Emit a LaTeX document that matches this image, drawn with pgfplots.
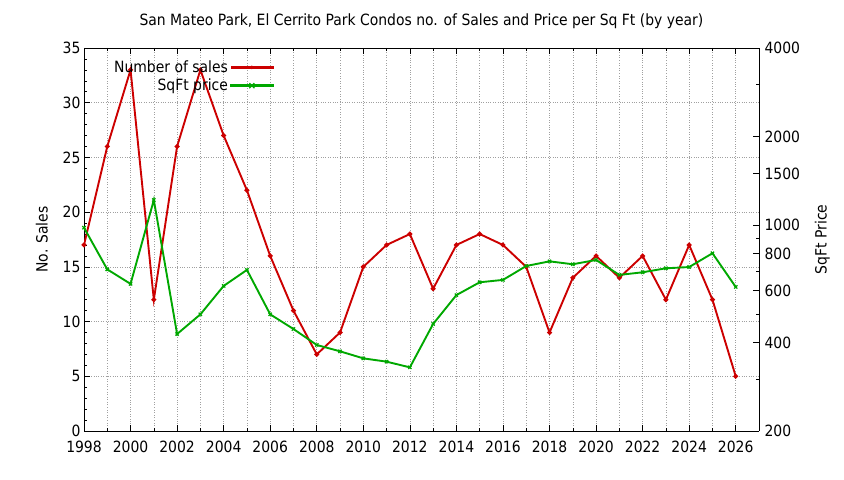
\documentclass[border=0pt]{standalone}
\usepackage{pgfplots}
\pgfplotsset{compat=1.18}
\usepackage{fontspec}
\setmainfont{DejaVu Sans Condensed}
\definecolor{salesred}{HTML}{CC0000}
\definecolor{pricegreen}{HTML}{00A800}
\definecolor{gridgray}{HTML}{A0A0A0}

\begin{document}
\begin{tikzpicture}
\useasboundingbox (-84bp,-49bp) rectangle (760bp,431bp);
\pgfplotsset{
	every axis/.append style={
		scale only axis,
		width=675bp, height=383bp,
		xmin=1998, xmax=2027,
		font=\fontsize{15.5bp}{18bp}\selectfont,
		tick label style={font=\fontsize{15.5bp}{18bp}\selectfont},
		label style={font=\fontsize{15.5bp}{18bp}\selectfont},
		/pgf/number format/assume math mode=true,
		/pgf/number format/1000 sep={},
		tick align=inside,
		major tick length=6bp,
		minor tick length=3bp,
		tick style={black, line width=0.6pt},
		axis line style={black, line width=0.8pt},
	},
}
\begin{axis}[
	ymin=0, ymax=35,
	ytick={0,5,...,35},
	minor y tick num=4,
	xtick={1998,2000,...,2026},
	minor xtick={1999,2001,...,2025},
	xmajorgrids, xminorgrids, ymajorgrids,
	grid style={gridgray, dotted, line width=0.6pt},
	minor grid style={gridgray, dotted, line width=0.6pt},
	axis y line*=left,
	axis x line*=box,
	ylabel={No. Sales},
	ylabel style={yshift=8bp},
	xticklabel style={yshift=-6bp},
	title={San Mateo Park, El Cerrito Park Condos no. of Sales and Price per Sq Ft (by year)},
	title style={font=\fontsize{15.5bp}{18bp}\selectfont, yshift=10bp},
]
\addplot[salesred, line width=1.9pt, mark=*, mark size=1.4pt] coordinates {
(1998,17) (1999,26) (2000,33) (2001,12) (2002,26) (2003,33) (2004,27)
(2005,22) (2006,16) (2007,11) (2008,7) (2009,9) (2010,15) (2011,17)
(2012,18) (2013,13) (2014,17) (2015,18) (2016,17) (2017,15) (2018,9)
(2019,14) (2020,16) (2021,14) (2022,16) (2023,12) (2024,17) (2025,12)
(2026,5)
};
\end{axis}
\begin{axis}[
	ymode=log,
	ymin=200, ymax=4000,
	ytick={200,400,600,800,1000,1500,2000,4000},
	minor ytick={300,500,700,900,3000},
	log ticks with fixed point,
	axis y line*=right,
	axis x line=none,
	ylabel={SqFt Price},
	ylabel style={yshift=-8bp},
	yticklabel style={xshift=2bp},
	legend style={at={(0.283,0.975)}, anchor=north east, draw=none, fill=none,
		font=\fontsize{15.5bp}{18bp}\selectfont, row sep=1bp,
		inner sep=1bp},
	legend cell align=right,
	legend plot pos=right,
]
\addlegendimage{legend image code/.code={
	\fill[salesred] (0bp,-0.9pt) rectangle (42bp,0.9pt);
	\fill[salesred] (21bp,0bp) circle (1.7pt);}}
\addlegendentry{Number of sales}
\addplot[pricegreen, line width=1.9pt, mark=x, mark size=2.3pt, mark options={line width=1.3pt},
	legend image code/.code={
	\fill[pricegreen] (0bp,-0.9pt) rectangle (42bp,0.9pt);
	\draw[pricegreen, line width=1.3pt] (18.5bp,-2.5bp) -- (23.5bp,2.5bp) (18.5bp,2.5bp) -- (23.5bp,-2.5bp);}]
coordinates {
(1998,981) (1999,708) (2000,632) (2001,1218) (2002,427) (2003,498) (2004,622)
(2005,705) (2006,498) (2007,444) (2008,392) (2009,373) (2010,353) (2011,344)
(2012,329) (2013,462) (2014,579) (2015,640) (2016,652) (2017,727) (2018,754)
(2019,737) (2020,762) (2021,678) (2022,692) (2023,714) (2024,721) (2025,803)
(2026,617)
};
\addlegendentry{SqFt price}
\end{axis}
\end{tikzpicture}
\end{document}
